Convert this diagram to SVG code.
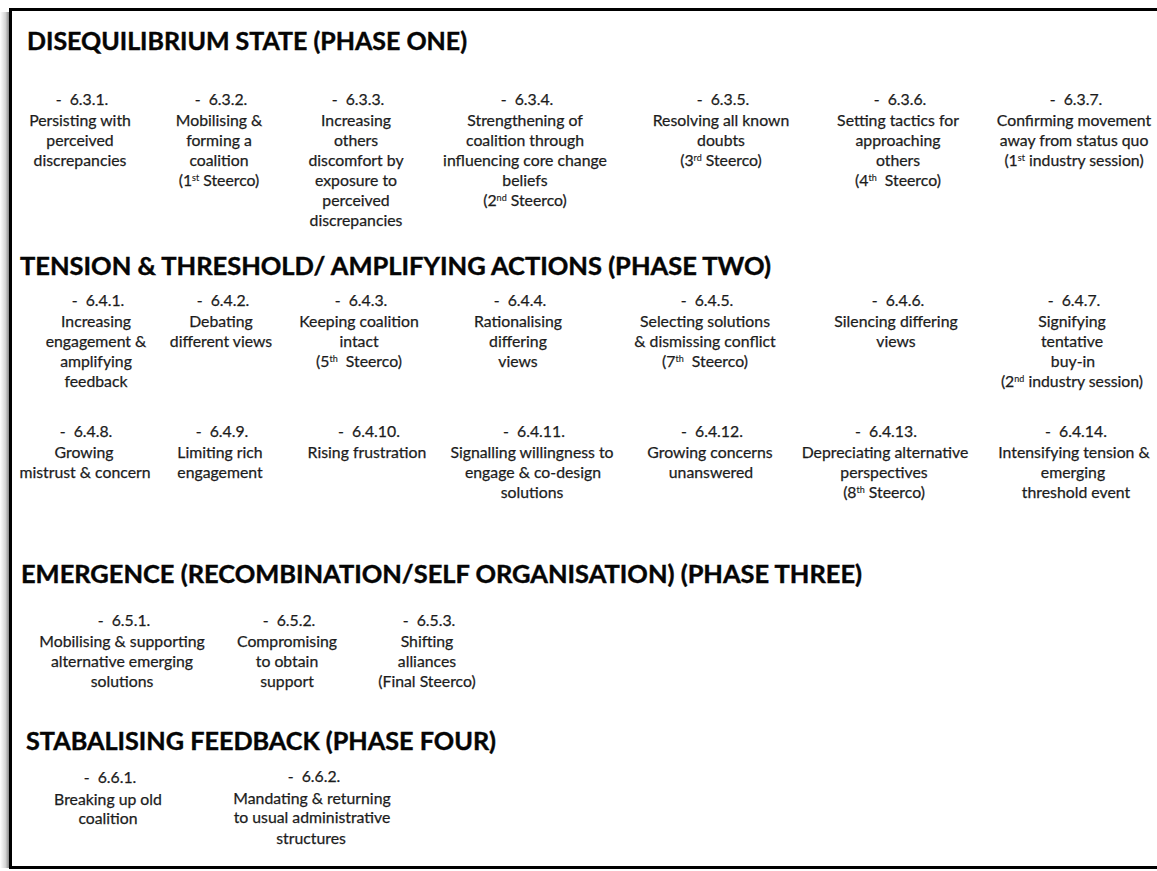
<svg xmlns="http://www.w3.org/2000/svg" width="1157" height="871" viewBox="0 0 1157 871">
  <defs>
    <linearGradient id="leftShade" x1="0" y1="0" x2="1" y2="0">
      <stop offset="0" stop-color="#ffffff"/>
      <stop offset="0.6" stop-color="#d6d6d6"/>
      <stop offset="1" stop-color="#8a8a8a"/>
    </linearGradient>
    <style>
      .title { font-family: Lato, "Liberation Sans", sans-serif; font-weight: 700; font-size: 24px; fill: #050505; stroke: #050505; stroke-width: 0.4; }
      .item { font-family: Lato, "Liberation Sans", sans-serif; font-size: 15.8px; fill: #1c1c1c; stroke: #1c1c1c; stroke-width: 0.25; text-anchor: middle; }
      .sup { font-size: 9px; stroke-width: 0.15; }
    </style>
  </defs>

  <!-- page background, side shadow and frame -->
  <rect x="0" y="0" width="1157" height="871" fill="#ffffff"/>
  <rect x="0" y="12" width="9" height="856" fill="url(#leftShade)"/>
  <rect x="10.5" y="9.5" width="1200" height="858" fill="none" stroke="#000" stroke-width="3"/>

  <!-- phase headings -->
  <g id="phase-one">
    <text class="title" x="27" y="50" textLength="440" lengthAdjust="spacingAndGlyphs">DISEQUILIBRIUM STATE (PHASE ONE)</text>
  </g>
  <g id="phase-two">
    <text class="title" x="20" y="275" textLength="751" lengthAdjust="spacingAndGlyphs">TENSION &amp; THRESHOLD/ AMPLIFYING ACTIONS (PHASE TWO)</text>
  </g>
  <g id="phase-three">
    <text class="title" x="21" y="583" textLength="841" lengthAdjust="spacingAndGlyphs">EMERGENCE (RECOMBINATION/SELF ORGANISATION) (PHASE THREE)</text>
  </g>
  <g id="phase-four">
    <text class="title" x="26" y="750" textLength="470" lengthAdjust="spacingAndGlyphs">STABALISING FEEDBACK (PHASE FOUR)</text>
  </g>

  <!-- phase one items -->
  <g id="i631"><text class="item"><tspan x="82" y="105">-&#160; 6.3.1.</tspan><tspan x="80" y="126">Persisting with</tspan><tspan x="80" y="146">perceived</tspan><tspan x="80" y="166">discrepancies</tspan></text></g>
  <g id="i632"><text class="item"><tspan x="221" y="105">-&#160; 6.3.2.</tspan><tspan x="219" y="126">Mobilising &amp;</tspan><tspan x="219" y="146">forming a</tspan><tspan x="219" y="166">coalition</tspan><tspan x="219" y="186">(1<tspan class="sup" dy="-5">st</tspan><tspan dy="5"> Steerco)</tspan></tspan></text></g>
  <g id="i633"><text class="item"><tspan x="358" y="105">-&#160; 6.3.3.</tspan><tspan x="356" y="126">Increasing</tspan><tspan x="356" y="146">others</tspan><tspan x="356" y="166">discomfort by</tspan><tspan x="356" y="186">exposure to</tspan><tspan x="356" y="206">perceived</tspan><tspan x="356" y="226">discrepancies</tspan></text></g>
  <g id="i634"><text class="item"><tspan x="527" y="105">-&#160; 6.3.4.</tspan><tspan x="525" y="126">Strengthening of</tspan><tspan x="525" y="146">coalition through</tspan><tspan x="525" y="166">influencing core change</tspan><tspan x="525" y="186">beliefs</tspan><tspan x="525" y="206">(2<tspan class="sup" dy="-5">nd</tspan><tspan dy="5"> Steerco)</tspan></tspan></text></g>
  <g id="i635"><text class="item"><tspan x="723" y="105">-&#160; 6.3.5.</tspan><tspan x="721" y="126">Resolving all known</tspan><tspan x="721" y="146">doubts</tspan><tspan x="721" y="166">(3<tspan class="sup" dy="-5">rd</tspan><tspan dy="5"> Steerco)</tspan></tspan></text></g>
  <g id="i636"><text class="item"><tspan x="900" y="105">-&#160; 6.3.6.</tspan><tspan x="898" y="126">Setting tactics for</tspan><tspan x="898" y="146">approaching</tspan><tspan x="898" y="166">others</tspan><tspan x="898" y="186">(4<tspan class="sup" dy="-5">th</tspan><tspan dy="5">&#160; Steerco)</tspan></tspan></text></g>
  <g id="i637"><text class="item"><tspan x="1076" y="105">-&#160; 6.3.7.</tspan><tspan x="1074" y="126">Confirming movement</tspan><tspan x="1074" y="146">away from status quo</tspan><tspan x="1074" y="166">(1<tspan class="sup" dy="-5">st</tspan><tspan dy="5"> industry session)</tspan></tspan></text></g>

  <!-- phase two items, first row -->
  <g id="i641"><text class="item"><tspan x="98" y="306">-&#160; 6.4.1.</tspan><tspan x="96" y="327">Increasing</tspan><tspan x="96" y="347">engagement &amp;</tspan><tspan x="96" y="367">amplifying</tspan><tspan x="96" y="387">feedback</tspan></text></g>
  <g id="i642"><text class="item"><tspan x="223" y="306">-&#160; 6.4.2.</tspan><tspan x="221" y="327">Debating</tspan><tspan x="221" y="347">different views</tspan></text></g>
  <g id="i643"><text class="item"><tspan x="361" y="306">-&#160; 6.4.3.</tspan><tspan x="359" y="327">Keeping coalition</tspan><tspan x="359" y="347">intact</tspan><tspan x="359" y="367">(5<tspan class="sup" dy="-5">th</tspan><tspan dy="5">&#160; Steerco)</tspan></tspan></text></g>
  <g id="i644"><text class="item"><tspan x="520" y="306">-&#160; 6.4.4.</tspan><tspan x="518" y="327">Rationalising</tspan><tspan x="518" y="347">differing</tspan><tspan x="518" y="367">views</tspan></text></g>
  <g id="i645"><text class="item"><tspan x="707" y="306">-&#160; 6.4.5.</tspan><tspan x="705" y="327">Selecting solutions</tspan><tspan x="705" y="347">&amp; dismissing conflict</tspan><tspan x="705" y="367">(7<tspan class="sup" dy="-5">th</tspan><tspan dy="5">&#160; Steerco)</tspan></tspan></text></g>
  <g id="i646"><text class="item"><tspan x="898" y="306">-&#160; 6.4.6.</tspan><tspan x="896" y="327">Silencing differing</tspan><tspan x="896" y="347">views</tspan></text></g>
  <g id="i647"><text class="item"><tspan x="1074" y="306">-&#160; 6.4.7.</tspan><tspan x="1072" y="327">Signifying</tspan><tspan x="1072" y="347">tentative</tspan><tspan x="1073" y="367">buy-in</tspan><tspan x="1072" y="387">(2<tspan class="sup" dy="-5">nd</tspan><tspan dy="5"> industry session)</tspan></tspan></text></g>

  <!-- phase two items, second row -->
  <g id="i648"><text class="item"><tspan x="86" y="437">-&#160; 6.4.8.</tspan><tspan x="84" y="458">Growing</tspan><tspan x="85" y="478">mistrust &amp; concern</tspan></text></g>
  <g id="i649"><text class="item"><tspan x="222" y="437">-&#160; 6.4.9.</tspan><tspan x="220" y="458">Limiting rich</tspan><tspan x="220" y="478">engagement</tspan></text></g>
  <g id="i6410"><text class="item"><tspan x="369" y="437">-&#160; 6.4.10.</tspan><tspan x="367" y="458">Rising frustration</tspan></text></g>
  <g id="i6411"><text class="item"><tspan x="534" y="437">-&#160; 6.4.11.</tspan><tspan x="532" y="458">Signalling willingness to</tspan><tspan x="533" y="478">engage &amp; co-design</tspan><tspan x="532" y="498">solutions</tspan></text></g>
  <g id="i6412"><text class="item"><tspan x="712" y="437">-&#160; 6.4.12.</tspan><tspan x="710" y="458">Growing concerns</tspan><tspan x="711" y="478">unanswered</tspan></text></g>
  <g id="i6413"><text class="item"><tspan x="886" y="437">-&#160; 6.4.13.</tspan><tspan x="885" y="458">Depreciating alternative</tspan><tspan x="884" y="478">perspectives</tspan><tspan x="884" y="498">(8<tspan class="sup" dy="-5">th</tspan><tspan dy="5"> Steerco)</tspan></tspan></text></g>
  <g id="i6414"><text class="item"><tspan x="1076" y="437">-&#160; 6.4.14.</tspan><tspan x="1074" y="458">Intensifying tension &amp;</tspan><tspan x="1073" y="478">emerging</tspan><tspan x="1076" y="498">threshold event</tspan></text></g>

  <!-- phase three items -->
  <g id="i651"><text class="item"><tspan x="124" y="626">-&#160; 6.5.1.</tspan><tspan x="122" y="647">Mobilising &amp; supporting</tspan><tspan x="122" y="667">alternative emerging</tspan><tspan x="122" y="687">solutions</tspan></text></g>
  <g id="i652"><text class="item"><tspan x="289" y="626">-&#160; 6.5.2.</tspan><tspan x="287" y="647">Compromising</tspan><tspan x="287" y="667">to obtain</tspan><tspan x="287" y="687">support</tspan></text></g>
  <g id="i653"><text class="item"><tspan x="429" y="626">-&#160; 6.5.3.</tspan><tspan x="427" y="647">Shifting</tspan><tspan x="427" y="667">alliances</tspan><tspan x="427" y="687">(Final Steerco)</tspan></text></g>

  <!-- phase four items -->
  <g id="i661"><text class="item"><tspan x="110" y="783">-&#160; 6.6.1.</tspan><tspan x="108" y="805">Breaking up old</tspan><tspan x="108" y="824">coalition</tspan></text></g>
  <g id="i662"><text class="item"><tspan x="314" y="782">-&#160; 6.6.2.</tspan><tspan x="312" y="804">Mandating &amp; returning</tspan><tspan x="312" y="823">to usual administrative</tspan><tspan x="311" y="844">structures</tspan></text></g>

  <!-- no connectors are drawn between the items -->
  <g id="connectors"/>
</svg>
